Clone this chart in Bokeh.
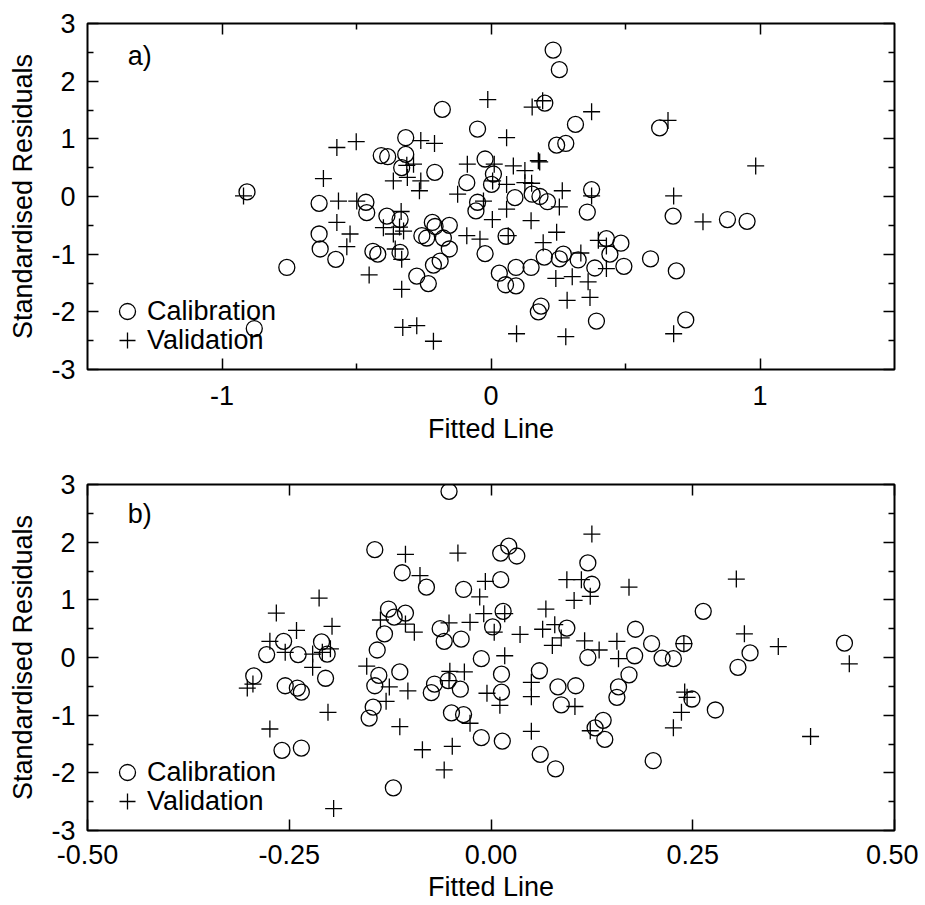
from bokeh.plotting import figure
from bokeh.layouts import column
from bokeh.models import (Range1d, FixedTicker, LinearAxis, Legend, LegendItem, Label)
from bokeh.embed import file_html
from bokeh.resources import INLINE

# ---------------- data ----------------
# panel a) calibration
a_cal_x = [-0.907, -0.88, -0.759, -0.639, -0.639, -0.635, -0.577, -0.465, -0.462, -0.439,
           -0.421, -0.408, -0.384, -0.387, -0.338, -0.338, -0.317, -0.317, -0.332, -0.209,
           -0.181, -0.276, -0.233, -0.257, -0.239, -0.218, -0.208, -0.155, -0.177, -0.155,
           -0.214, -0.189,
           0.231, 0.254, 0.200, -0.050, 0.314, 0.244, 0.278, 0.627, -0.022, 0.009,
           0.002, -0.090, -0.050, -0.056, 0.089, 0.153, 0.182, 0.210, 0.374, 0.358,
           0.677, 0.879, 0.952, 0.056, -0.022, 0.429, 0.483, 0.442, 0.269, 0.198,
           0.254, 0.324, 0.386, 0.494, 0.593, 0.689, 0.149, 0.093, 0.031, 0.054,
           0.093, 0.186, 0.176, 0.392, 0.724]
a_cal_y = [0.08, -2.29, -1.23, -0.12, -0.65, -0.91, -1.09, -0.10, -0.28, -0.95,
           -1.00, 0.71, 0.69, -0.34, -0.40, -0.97, 1.02, 0.73, 0.50, 0.42,
           1.51, -1.38, -1.51, -0.68, -0.72, -0.45, -0.52, -0.50, -0.72, -0.91,
           -1.19, -1.12,
           2.54, 2.20, 1.62, 1.17, 1.25, 0.89, 0.92, 1.19, 0.65, 0.39,
           0.21, 0.24, -0.10, -0.25, -0.02, 0.04, 0.00, -0.09, 0.12, -0.27,
           -0.34, -0.40, -0.43, -0.69, -0.99, -0.73, -0.81, -1.00, -1.00, -1.05,
           -1.08, -1.10, -1.24, -1.21, -1.08, -1.29, -1.23, -1.23, -1.33, -1.53,
           -1.55, -1.90, -2.00, -2.16, -2.14]

# panel a) validation
a_val_x = [-0.920, -0.623, -0.573, -0.501, -0.567, -0.499, -0.573, -0.524, -0.536, -0.453,
           -0.363, -0.313, -0.288, -0.311, -0.261, -0.210, -0.261, -0.266, -0.400, -0.334,
           -0.340, -0.363, -0.325, -0.356, -0.332, -0.332, -0.328, -0.276, -0.214, -0.124,
           -0.090,
           -0.012, 0.153, 0.192, 0.374, 0.658, 0.058, -0.088, 0.012, 0.083, 0.126,
           0.176, 0.181, 0.006, 0.126, 0.151, 0.058, 0.265, 0.984, 0.679, 0.374,
           -0.028, 0.058, 0.254, 0.005, 0.149, 0.788, -0.041, 0.064, 0.244, 0.194,
           0.399, 0.429, 0.334, 0.429, 0.241, 0.302, 0.361, 0.283, 0.368, 0.095,
           0.278, 0.679]
a_val_y = [0.01, 0.31, 0.85, 0.95, -0.08, -0.08, -0.45, -0.65, -0.87, -1.36,
           0.27, 0.54, 0.56, 0.33, 0.97, 0.92, 0.27, 0.10, -0.54, -0.26,
           -0.53, -0.65, -0.60, -0.91, -1.09, -1.61, -2.27, -2.24, -2.51, 0.04,
           -0.68,
           1.68, 1.55, 1.66, 1.47, 1.32, 1.02, 0.56, 0.56, 0.53, 0.45,
           0.62, 0.60, 0.27, 0.24, 0.23, 0.21, 0.10, 0.53, 0.01, 0.01,
           -0.08, -0.22, -0.18, -0.40, -0.42, -0.44, -0.74, -0.68, -0.62, -0.80,
           -0.76, -0.86, -0.98, -1.25, -1.42, -1.39, -1.48, -1.80, -1.75, -2.38,
           -2.43, -2.38]

# panel b) calibration
b_cal_x = [-0.294, -0.278, -0.257, -0.255, -0.239, -0.240, -0.235, -0.259, -0.235, -0.210,
           -0.203, -0.205, -0.144, -0.110, -0.080, -0.127, -0.120, -0.106, -0.132, -0.141,
           -0.139, -0.144, -0.146, -0.151, -0.113, -0.121, -0.052, -0.063, -0.058, -0.037,
           -0.034, -0.070, -0.074, -0.053, -0.038, -0.049, -0.034,
           0.012, 0.022, 0.032, 0.012, 0.120, 0.125, 0.015, 0.002, 0.094, -0.012,
           0.013, 0.013, 0.060, 0.083, 0.105, 0.087, -0.012, 0.014, 0.061, 0.080,
           0.120, 0.179, 0.199, 0.178, 0.171, 0.158, 0.156, 0.139, 0.129, 0.141,
           0.201, 0.212, 0.226, 0.239, 0.263, 0.249, 0.278, 0.306, 0.321, 0.438]
b_cal_y = [-0.32, 0.05, 0.28, -0.49, 0.05, -0.53, -0.60, -1.61, -1.57, 0.27,
           0.06, -0.36, 1.87, 1.47, 1.22, 0.84, 0.70, 0.77, 0.41, 0.13,
           -0.31, -0.49, -0.86, -1.05, -0.25, -2.26, 2.88, 0.50, 0.28, 0.32,
           1.18, -0.46, -0.61, -0.40, -0.55, -0.96, -0.99,
           1.81, 1.93, 1.76, 1.35, 1.64, 1.27, 0.80, 0.53, 0.51, -0.02,
           -0.29, -0.60, -0.23, -0.51, -0.49, -0.82, -1.39, -1.45, -1.68, -1.93,
           0.00, 0.49, 0.24, 0.03, -0.30, -0.51, -0.69, -1.09, -1.22, -1.42,
           -1.79, -0.01, -0.02, 0.24, 0.80, -0.72, -0.91, -0.17, 0.08, 0.25]

# panel b) validation
b_val_x = [-0.302, -0.295, -0.274, -0.266, -0.274, -0.255, -0.241, -0.221, -0.221, -0.213,
           -0.209, -0.199, -0.197, -0.202, -0.195, -0.154, -0.137, -0.126, -0.130, -0.113,
           -0.106, -0.106, -0.095, -0.103, -0.088, -0.085, -0.058, -0.048, -0.052, -0.051,
           -0.052, -0.041, -0.033,
           0.125, -0.007, -0.014, -0.009, 0.017, -0.026, 0.004, 0.036, 0.064, 0.068,
           0.079, 0.087, 0.076, 0.094, 0.103, 0.112, 0.123, 0.116, 0.134, 0.156,
           0.158, 0.171, 0.017, -0.005, 0.011, -0.026, 0.050, 0.050, 0.050, 0.104,
           0.123, 0.240, 0.243, 0.236, 0.226, 0.239, 0.304, 0.314, 0.356, 0.396,
           0.444]
b_val_y = [-0.53, -0.46, -1.24, 0.77, 0.28, 0.09, 0.47, 0.06, -0.17, 1.03,
           0.09, 0.15, 0.54, -0.95, -2.62, -0.15, 0.65, -0.51, -0.76, -1.20,
           1.79, 0.58, 0.44, -0.58, 1.42, -1.60, -1.95, -1.54, 0.60, -0.24,
           -0.40, 1.81, -0.25,
           2.14, 1.32, 1.05, 0.76, 0.76, 0.61, 0.44, 0.40, 0.49, 0.84,
           0.57, 0.34, 0.21, 1.35, 0.99, 1.35, 1.06, 0.29, 0.13, 0.28,
           -0.02, 1.22, 0.03, -0.62, -0.83, -1.14, -0.43, -0.68, -1.28, -0.85,
           -1.27, -0.60, -0.69, -0.95, -1.22, 0.24, 1.36, 0.41, 0.19, -1.37,
           -0.11]

y_ticks = [-3, -2, -1, 0, 1, 2, 3]
y_tick_labels = ["-3", "-2", "-1", "0", "1", "2", "3"]
y_minor = [-2.5, -1.5, -0.5, 0.5, 1.5, 2.5]
a_x_ticks = [-1, 0, 1]
a_x_tick_labels = ["-1", "0", "1"]
a_x_minor = [-0.5, 0.5]
b_x_ticks = [-0.5, -0.25, 0.0, 0.25, 0.5]
b_x_tick_labels = ["-0.50", "-0.25", "0.00", "0.25", "0.50"]
b_x_minor = []

FONT = "Liberation Sans"
FS = "27px"


def style_axis(ax, labels=True, standoff=12):
    ax.axis_line_color = None
    ax.major_tick_in = 11
    ax.major_tick_out = 0
    ax.minor_tick_in = 6
    ax.minor_tick_out = 0
    ax.major_tick_line_color = "black"
    ax.minor_tick_line_color = "black"
    ax.major_tick_line_width = 1.5
    ax.minor_tick_line_width = 1.5
    ax.major_label_text_font = FONT
    ax.axis_label_text_font = FONT
    ax.axis_label_text_font_style = "normal"
    ax.axis_label_text_font_size = FS
    ax.axis_label_text_color = "black"
    if labels:
        ax.major_label_text_color = "black"
        ax.major_label_text_font_size = FS
        ax.major_label_standoff = standoff
    else:
        ax.major_label_text_color = None
        ax.major_label_text_font_size = "1px"
        ax.major_label_standoff = 0


def one_item_legend(label, renderer, y_off):
    return Legend(items=[LegendItem(label=label, renderers=[renderer])],
                  location=(20, y_off), border_line_color=None,
                  background_fill_alpha=0, padding=0, margin=0, spacing=0,
                  label_text_font=FONT, label_text_font_size=FS,
                  label_text_color="black",
                  glyph_width=40, glyph_height=40, label_height=29,
                  label_standoff=0)


def make_panel(xr, xticks, xlabels, xminor, cal_x, cal_y, val_x, val_y, tag, tag_x, tag_y,
               height, top_border, bottom_border, xlab_standoff, xtitle_standoff):
    p = figure(width=918, height=height, output_backend="svg", toolbar_location=None,
               x_range=Range1d(*xr), y_range=Range1d(-3, 3),
               min_border_left=87, min_border_right=24, min_border_top=top_border,
               min_border_bottom=bottom_border)
    p.xgrid.visible = False
    p.ygrid.visible = False
    p.outline_line_color = "black"
    p.outline_line_width = 2
    p.background_fill_color = "white"
    p.border_fill_color = "white"

    xt = FixedTicker(ticks=xticks, minor_ticks=xminor)
    yt = FixedTicker(ticks=y_ticks, minor_ticks=y_minor)

    p.xaxis.ticker = xt
    p.yaxis.ticker = yt
    p.xaxis.major_label_overrides = dict(zip(xticks, xlabels))
    p.yaxis.major_label_overrides = dict(zip(y_ticks, y_tick_labels))
    p.xaxis.axis_label = "Fitted Line"
    p.yaxis.axis_label = "Standardised Residuals"
    style_axis(p.xaxis[0], True, xlab_standoff)
    p.xaxis[0].axis_label_standoff = xtitle_standoff
    style_axis(p.yaxis[0], True, 12)
    p.yaxis[0].axis_label_standoff = 10

    top = LinearAxis(ticker=xt)
    style_axis(top, False)
    p.add_layout(top, "above")
    right = LinearAxis(ticker=yt)
    style_axis(right, False)
    p.add_layout(right, "right")

    r_cal = p.scatter(cal_x, cal_y, marker="circle", size=16, fill_color=None,
                      line_color="black", line_width=1.3)
    r_val = p.scatter(val_x, val_y, marker="cross", size=17,
                      line_color="black", line_width=1.3)

    p.add_layout(one_item_legend("Calibration", r_cal, 38))
    p.add_layout(one_item_legend("Validation", r_val, 9))

    p.add_layout(Label(x=tag_x, y=tag_y, text=tag, text_baseline="middle",
                       text_font=FONT, text_font_size=FS, text_color="black"))
    return p


p1 = make_panel((-1.5, 1.5), a_x_ticks, a_x_tick_labels, a_x_minor,
                a_cal_x, a_cal_y, a_val_x, a_val_y, "a)", -1.35, 2.43,
                466, 23, 97, 16, 6)
p2 = make_panel((-0.5, 0.5), b_x_ticks, b_x_tick_labels, b_x_minor,
                b_cal_x, b_cal_y, b_val_x, b_val_y, "b)", -0.45, 2.48,
                438, 18, 74, 14, 5)

layout = column(p1, p2, spacing=0)
open("out.html", "w").write(file_html(layout, INLINE))
